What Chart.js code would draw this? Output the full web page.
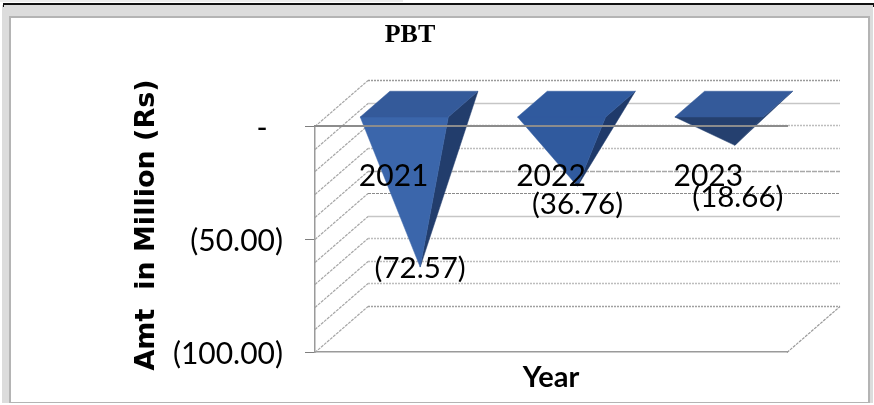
<!DOCTYPE html>
<html><head><meta charset="utf-8">
<style>html,body{margin:0;padding:0;background:#fff}#w{width:874px;height:405px;position:relative}</style>
<script src="https://cdn.jsdelivr.net/npm/chart.js@4/dist/chart.umd.min.js"></script>
</head><body><div id="w"><canvas id="c" width="874" height="405"></canvas></div>
<script>
const categories = ['2021','2022','2023'];
const pbtValues = [-72.57,-36.76,-18.66];
const axisMin = -100, axisMax = 0, axisStep = 10, labelledStep = 50;
const seriesName = 'PBT';
const chartTitle = 'PBT', xTitle = 'Year', yTitle = 'Amt  in Million (Rs)';

const DEPTH = {x:53, y:-46};
const BASE_FRONT = 0.2, BASE_BACK = 0.76, APEX = 0.5;
const topColors = ['#345a9a','#305a9e','#345a9a'];
const frontColors = ['#3b66ab','#305a9e','#25406f'];
const sideColors = ['#223d6c','#1f3a6a','#25406f'];
const labelNudge = [{x:0,y:-22},{x:0,y:-5},{x:3,y:29}];
const FONT = 'Lato, Carlito, sans-serif';
const wallStyles = [
 ['#9a9a9a',[2,1],1.5],['#c6c6c6',[],1.5],['#bdbdbd',[2,1],1.5],['#bdbdbd',[2,1],1.5],['#a8a8a8',[5,1],1.5],['#8a8a8a',[3,1],1],
 ['#c6c6c6',[],1.5],['#bdbdbd',[2,1],1.5],['#bdbdbd',[2,1],1.5],['#bdbdbd',[2,1],1.5],['#a0a0a0',[2,1],1.5]];

const fmt = v => {
  if (v === 0) return '-\u00a0\u00a0';
  if (v % labelledStep !== 0) return '';
  return '(' + Math.abs(v).toFixed(2) + ')';
};

const frame = {
  id:'frame',
  beforeDraw(chart){
    const c = chart.ctx; c.save();
    c.fillStyle='#ececec'; c.fillRect(0,0,403,2);
    c.fillStyle='#dcdcdc'; c.fillRect(2,5,871,398);
    c.fillStyle='#b4b4b4'; c.fillRect(9,16,861,387);
    c.fillStyle='#fff'; c.fillRect(11,18,857,384);
    c.fillStyle='#111'; c.fillRect(3,3,871,2); c.fillRect(3,3,1,4); c.fillRect(873,3,1,4);
    c.restore();
  }
};

const walls = {
  id:'walls',
  beforeDatasetsDraw(chart){
    const c = chart.ctx, y = chart.scales.y, a = chart.chartArea;
    c.save();
    y.ticks.forEach((t,i)=>{
      const p = Math.round(y.getPixelForValue(t.value)) + 0.5;
      const st = wallStyles[Math.round(Math.abs(t.value)/axisStep)];
      c.lineWidth = 1.2;
      c.strokeStyle = '#a6a6a6'; c.setLineDash([3,1]);
      c.beginPath(); c.moveTo(a.left,p); c.lineTo(a.left+DEPTH.x,p+DEPTH.y); c.stroke();
      c.lineWidth = st[2];
      c.strokeStyle = st[0]; c.setLineDash(st[1]);
      c.beginPath(); c.moveTo(a.left+DEPTH.x,p+DEPTH.y); c.lineTo(a.right+DEPTH.x,p+DEPTH.y); c.stroke();
    });
    const b = Math.round(a.bottom)+0.5;
    c.lineWidth = 1.2;
    c.strokeStyle='#9a9a9a'; c.setLineDash([3,1]);
    c.beginPath(); c.moveTo(a.right,b); c.lineTo(a.right+DEPTH.x,b+DEPTH.y); c.stroke();
    c.restore();
  }
};

const pyramids = {
  id:'pyramids',
  afterDatasetsDraw(chart){
    const c = chart.ctx, y = chart.scales.y, meta = chart.getDatasetMeta(0);
    const zero = y.getPixelForValue(0);
    const poly = (pts,col)=>{c.fillStyle=col;c.strokeStyle=col;c.lineWidth=.5;c.beginPath();pts.forEach((p,i)=>i?c.lineTo(p[0],p[1]):c.moveTo(p[0],p[1]));c.closePath();c.fill();c.stroke();};
    c.save();
    meta.data.forEach((bar,i)=>{
      const h = bar.width/2, l = bar.x-h, r = bar.x+h;
      const fx = DEPTH.x*BASE_FRONT, fy = DEPTH.y*BASE_FRONT, bx = DEPTH.x*BASE_BACK, by = DEPTH.y*BASE_BACK;
      const apex = [bar.x+DEPTH.x*APEX, bar.y+DEPTH.y*APEX];
      const fl=[l+fx,zero+fy], fr=[r+fx,zero+fy], br=[r+bx,zero+by], bl=[l+bx,zero+by];
      poly([fr,br,apex],sideColors[i]);
      poly([fl,fr,apex],frontColors[i]);
      poly([fl,fr,br,bl],topColors[i]);
    });
    c.restore();
  },
  afterDraw(chart){
    const c = chart.ctx, meta = chart.getDatasetMeta(0);
    c.save(); c.font = '29.5px '+FONT; c.fillStyle='#000'; c.textAlign='center'; c.textBaseline='middle';
    meta.data.forEach((bar,i)=>{
      c.fillText('('+Math.abs(pbtValues[i]).toFixed(2)+')',
        bar.x+DEPTH.x*APEX+labelNudge[i].x, bar.y+labelNudge[i].y);
    });
    c.restore();
  },
  afterLayout(chart){ chart.titleBlock.left = 0; chart.titleBlock.right = 820; }
};

new Chart(document.getElementById('c'),{
  type:'bar',
  data:{labels:categories,datasets:[{label:seriesName,data:pbtValues,backgroundColor:'rgba(0,0,0,0)',borderWidth:0,
    categoryPercentage:1,barPercentage:0.56}]},
  options:{
    responsive:false,animation:false,
    layout:{padding:{left:131,right:87,top:20,bottom:10}},
    plugins:{
      legend:{display:false},tooltip:{enabled:false},
      title:{display:true,text:chartTitle,color:'#000',padding:{top:0,bottom:75},
        font:{family:'"Liberation Serif", serif',size:26,weight:'bold',lineHeight:1.2}}
    },
    scales:{
      x:{type:'category',position:{y:0},
        grid:{display:false},
        border:{display:true,color:'#8c8c8c',width:2,z:1},
        ticks:{color:'#000',padding:24,z:2,font:{family:FONT,size:30},maxRotation:0}},
      x2:{type:'category',position:'bottom',labels:categories,
        grid:{display:false},
        border:{display:true,color:'#9a9a9a',dash:[2,1],width:1.5},
        ticks:{display:false},
        title:{display:true,text:xTitle,color:'#000',padding:{top:0,bottom:0},
          font:{family:FONT,size:29,weight:'bold',lineHeight:1.2}},
        afterFit(s){s.height=43;}},
      y:{type:'linear',position:'left',min:axisMin,max:axisMax,
        grid:{drawOnChartArea:false,tickLength:10,tickWidth:1,
          tickColor:ctx=>ctx.tick.value%labelledStep===0?'#7f7f7f':'rgba(0,0,0,0)'},
        border:{display:true,color:'#9a9a9a',dash:[2,1],width:1.5},
        ticks:{stepSize:axisStep,autoSkip:false,color:'#000',padding:22,labelOffset:2,font:{family:FONT,size:30},callback:fmt},
        title:{display:true,text:'\u00a0\u00a0\u00a0'+yTitle,color:'#000',padding:{top:0,bottom:0},
          font:{family:'"DejaVu Sans", sans-serif',size:27,weight:'bold',lineHeight:1.2}},
        afterFit(s){s.width=184;}}
    }
  },
  plugins:[frame,walls,pyramids]
});
</script></body></html>
